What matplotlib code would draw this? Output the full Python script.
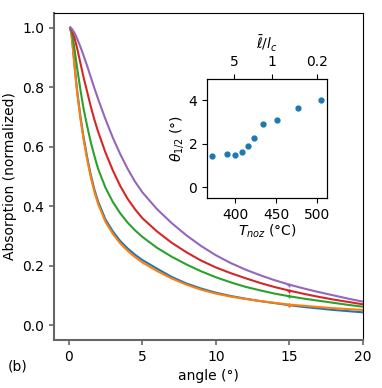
import numpy as np
import matplotlib
matplotlib.use("Agg")
import matplotlib.pyplot as plt

# angle grid (deg) and normalized absorption
angle = [0.1, 0.2, 0.3, 0.4, 0.5, 0.6, 0.8, 1.0, 1.25, 1.5, 1.75, 2.0, 2.5, 3.0, 3.5, 4.0,
         4.5, 5.0, 6.0, 7.0, 8.0, 9.0, 10.0, 11.0, 12.0, 13.0, 14.0, 15.0, 16.0, 17.0,
         18.0, 19.0, 20.0]
abs_blue = [1.0, 0.975, 0.925, 0.872, 0.822, 0.777, 0.70, 0.635, 0.565, 0.505, 0.455, 0.415,
            0.355, 0.315, 0.283, 0.258, 0.237, 0.219, 0.19, 0.162, 0.14, 0.123, 0.109, 0.098,
            0.089, 0.081, 0.074, 0.067, 0.061, 0.056, 0.051, 0.047, 0.043]
abs_orange = [1.0, 0.972, 0.92, 0.866, 0.815, 0.77, 0.692, 0.627, 0.557, 0.497, 0.447, 0.407,
              0.347, 0.307, 0.275, 0.25, 0.229, 0.211, 0.182, 0.157, 0.136, 0.119, 0.106,
              0.096, 0.088, 0.081, 0.075, 0.069, 0.065, 0.061, 0.057, 0.054, 0.051]
abs_green = [1.0, 0.985, 0.96, 0.925, 0.89, 0.855, 0.79, 0.73, 0.67, 0.615, 0.568, 0.525,
             0.462, 0.414, 0.376, 0.345, 0.319, 0.297, 0.26, 0.23, 0.204, 0.181, 0.161, 0.144,
             0.129, 0.117, 0.106, 0.097, 0.089, 0.082, 0.075, 0.068, 0.062]
abs_red = [1.0, 0.993, 0.98, 0.965, 0.945, 0.925, 0.88, 0.835, 0.785, 0.735, 0.69, 0.65,
           0.58, 0.52, 0.468, 0.425, 0.39, 0.36, 0.315, 0.277, 0.245, 0.217, 0.194, 0.175,
           0.158, 0.142, 0.128, 0.116, 0.105, 0.095, 0.086, 0.078, 0.07]
abs_purple = [1.0, 0.997, 0.99, 0.982, 0.972, 0.96, 0.935, 0.908, 0.872, 0.834, 0.796, 0.76,
              0.692, 0.63, 0.575, 0.526, 0.483, 0.447, 0.39, 0.343, 0.302, 0.266, 0.235,
              0.209, 0.187, 0.168, 0.151, 0.136, 0.123, 0.111, 0.1, 0.089, 0.079]

# inset: half-width angle vs nozzle temperature
t_noz = [372, 390, 400, 408, 416, 423, 434, 451, 477, 505]
theta_half = [1.43, 1.52, 1.49, 1.60, 1.88, 2.26, 2.93, 3.08, 3.67, 4.03]
top_tick_pos = [398.3, 445.1, 500.0]
top_tick_lab = ['5', '1', '0.2']

plt.rcParams.update({'font.size': 10})
fig = plt.figure(figsize=(3.82, 3.88), dpi=100)
ax = fig.add_axes([0.1414, 0.1237, 0.809, 0.843])

curves = [abs_blue, abs_orange, abs_green, abs_red, abs_purple]
for i, c in enumerate(curves):
    ax.plot(angle, c, color='C%d' % i, lw=1.5, marker='+', ms=3.5, mew=1,
            markevery=[27])

ax.set_xlim(-1, 20)
ax.set_ylim(-0.05, 1.05)
ax.set_xticks([0, 5, 10, 15, 20])
ax.set_yticks([0.0, 0.2, 0.4, 0.6, 0.8, 1.0])
ax.set_xlabel('angle (°)')
ax.set_ylabel('Absorption (normalized)')
for s in ['left', 'bottom']:
    ax.spines[s].set_color('#666666')
    ax.spines[s].set_linewidth(1.5)
ax.tick_params(color='#666666', width=1.2)

fig.text(0.02, 0.045, '(b)', fontsize=10)

# inset
axi = fig.add_axes([0.542, 0.490, 0.314, 0.307])
axi.plot(t_noz, theta_half, 'o', color='C0', ms=3.5)
axi.set_xlim(365.4, 511.9)
axi.set_ylim(-0.5, 5)
axi.set_xticks([400, 450, 500])
axi.set_yticks([0, 2, 4])
axi.set_xlabel('$T_{noz}$ (°C)', labelpad=1)
axi.set_ylabel(r'$\theta_{1/2}$ (°)', labelpad=2)

axt = axi.twiny()
axt.set_xlim(axi.get_xlim())
axt.set_xticks(top_tick_pos)
axt.set_xticklabels(top_tick_lab)
axt.set_xlabel(r'$\bar{\ell}/l_c$', labelpad=4)

fig.savefig('out.png', dpi=100)
